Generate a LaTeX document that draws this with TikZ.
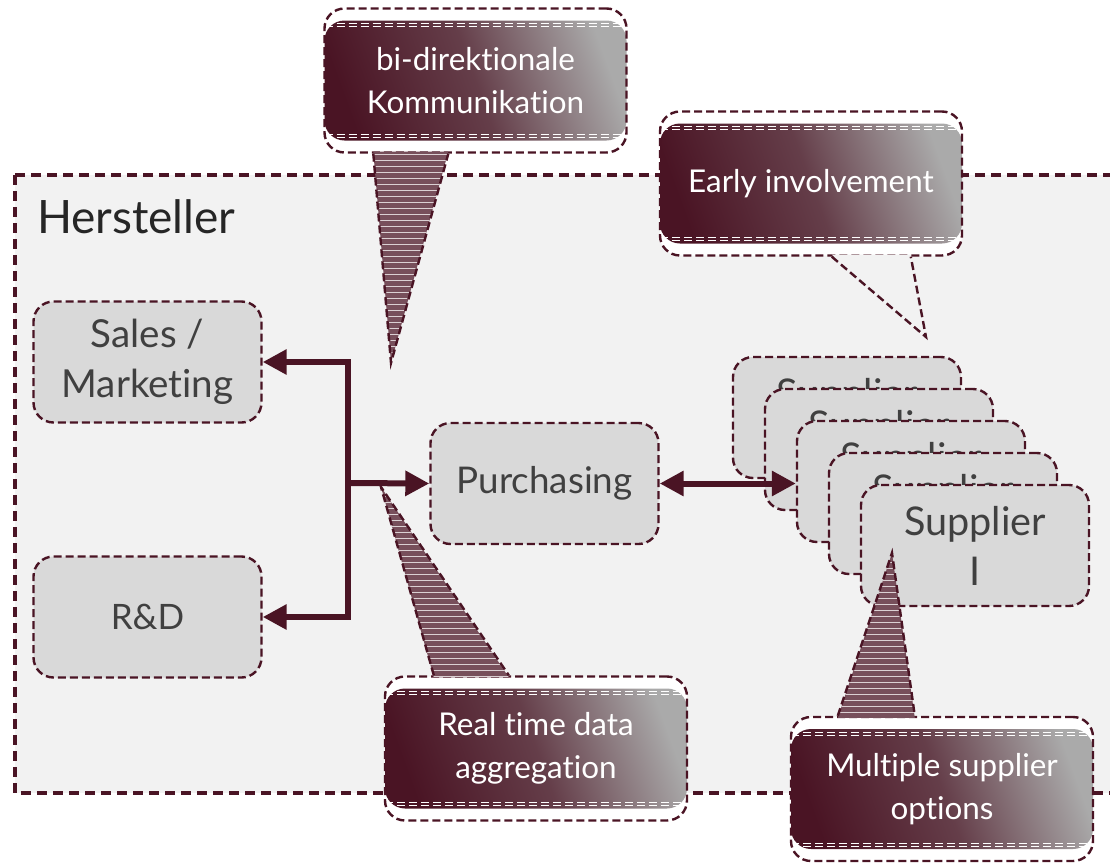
\documentclass[tikz,border=0pt]{standalone}
\usepackage{fontspec}
\setmainfont{Lato}[Ligatures=NoCommon]
\usetikzlibrary{arrows.meta,patterns,calc}

\begin{document}
\begin{tikzpicture}[x=0.5pt, y=-0.5pt, >={Triangle[length=12pt,width=12pt]}]

\definecolor{hsmaroon}{RGB}{74,20,36}
\definecolor{hsback}{RGB}{242,242,242}
\definecolor{hsbox}{RGB}{217,217,217}
\definecolor{hstext}{RGB}{64,64,64}
\definecolor{hsgray}{RGB}{170,170,170}

\tikzset{
  unit/.style={draw=hsmaroon, dash pattern=on 4pt off 2pt, line width=1.2pt, fill=hsbox,
    rounded corners=10pt, text=hstext, align=center, inner sep=0pt,
    minimum width=114pt, minimum height=60.5pt},
  bubble/.style={draw=hsmaroon, dash pattern=on 4pt off 2pt, line width=1.2pt, fill=white,
    rounded corners=10pt, text=white, align=center, inner sep=0pt,
    minimum width=151pt, minimum height=72pt, font=\fontsize{15.7}{21.5}\selectfont,
    path picture={
      \shade[left color=hsmaroon, right color=hsgray, middle color=hsmaroon!72!hsgray, shading angle=110]
        ([yshift=6pt]path picture bounding box.south west) rectangle ([yshift=-6pt]path picture bounding box.north east);
      \foreach \d in {7.5,9}{
        \draw[white, line width=0.4pt] ([yshift=\d pt]path picture bounding box.south west) -- ([yshift=\d pt]path picture bounding box.south east);
        \draw[white, line width=0.4pt] ([yshift=-\d pt]path picture bounding box.north west) -- ([yshift=-\d pt]path picture bounding box.north east);}
    }},
  tip/.style={preaction={fill=hsmaroon!75}, pattern=horizontal lines, pattern color=hsmaroon!20},
  tipline/.style={draw=hsmaroon, dash pattern=on 4pt off 2pt, line width=1.2pt},
  flow/.style={draw=hsmaroon, line width=3pt}
}

\useasboundingbox[fill=white] (0,0) rectangle (1110,863);

% Hersteller
\draw[fill=hsback, draw=hsmaroon, line width=1.6pt, dash pattern=on 5pt off 3pt] (15,175) rectangle (1130,793);
\node[anchor=base west, text=black!85, font=\fontsize{23}{23}\selectfont] (herst) at (30,233) {Hersteller};

\node[unit, font=\fontsize{19.3}{25}\selectfont] (sales) at (147.5,362) {Sales /\\Marketing};
\node[unit, font=\fontsize{17.5}{20}\selectfont] (rd) at (147.5,617) {R\&D};
\node[unit, font=\fontsize{18.4}{23}\selectfont] (purch) at (544.5,483.5) {Purchasing};

\foreach \i in {0,...,4}
  \node[unit, font=\fontsize{19.8}{25}\selectfont] (sup\i) at (847+32*\i,417.5+32*\i) {Supplier\\I};

% arrows
\coordinate (fork) at (348,483);
\draw[flow,->] (fork) |- (sales.east);
\draw[flow,->] (fork) |- (rd.east);
\draw[flow,->] (fork) -- (purch.west);
\draw[flow,<->] (purch.east) -- (sup2.west |- purch.east);

% callouts
\node[bubble] (komm) at (475.5,80.5) {bi-direktionale\\Kommunikation};
\coordinate (kommtip) at (391,363);
\fill[tip] ($(komm.south west)+(50,-2)$) -- (kommtip) -- ($(komm.south west)+(125,-2)$) -- cycle;
\draw[tipline] ($(komm.south west)+(50,0)$) -- (kommtip) -- ($(komm.south west)+(125,0)$);

\node[bubble] (early) at (811,183.5) {Early involvement};
\coordinate (earlytip) at (926,337);
\fill[hsback] ($(early.south west)+(173,-2)$) -- (earlytip) -- ($(early.south west)+(252,-2)$) -- cycle;
\draw[tipline] ($(early.south west)+(173,0)$) -- (earlytip) -- ($(early.south west)+(252,0)$);

\node[bubble] (realtime) at (536,748.5) {Real time data\\aggregation};
\coordinate (realtip) at (381,487);
\fill[tip] ($(realtime.north west)+(50,2)$) -- (realtip) -- ($(realtime.north west)+(125,2)$) -- cycle;
\draw[tipline] ($(realtime.north west)+(50,0)$) -- (realtip) -- ($(realtime.north west)+(125,0)$);

\node[bubble] (multi) at (942,789) {Multiple supplier\\options};
\coordinate (multitip) at (892,553);
\fill[tip] ($(multi.north west)+(48,2)$) -- (multitip) -- ($(multi.north west)+(125,2)$) -- cycle;
\draw[tipline] ($(multi.north west)+(48,0)$) -- (multitip) -- ($(multi.north west)+(125,0)$);

\end{tikzpicture}
\end{document}
